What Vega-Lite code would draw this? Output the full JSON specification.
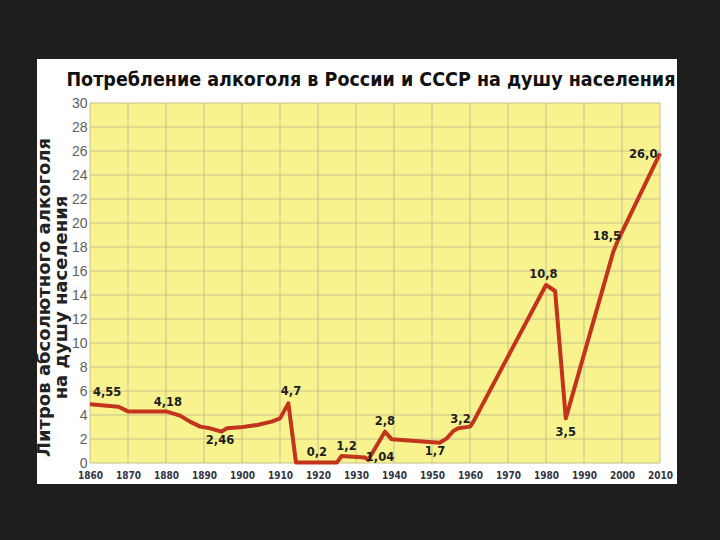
{
  "$schema": "https://vega.github.io/schema/vega-lite/v6.json",
  "autosize": "none",
  "width": 640,
  "height": 425,
  "padding": {"left": 37, "top": 59, "right": 43, "bottom": 56},
  "background": "#1e1e1e",
  "config": {"view": {"fill": "white", "stroke": null}},
  "title": {
    "text": "Потребление алкоголя в России и СССР на душу населения",
    "anchor": "start",
    "font": "DejaVu Sans Condensed",
    "fontSize": 19.5,
    "fontWeight": "bold",
    "color": "#111111",
    "baseline": "alphabetic",
    "offset": -46,
    "dx": 31
  },
  "datasets": {
    "panel": [{"year": 1860, "year2": 2010, "value": 0, "value2": 30}],
    "grid": [
      {"year": 1860, "year2": 1860, "value": 0, "value2": 30},
      {"year": 1870, "year2": 1870, "value": 0, "value2": 30},
      {"year": 1880, "year2": 1880, "value": 0, "value2": 30},
      {"year": 1890, "year2": 1890, "value": 0, "value2": 30},
      {"year": 1900, "year2": 1900, "value": 0, "value2": 30},
      {"year": 1910, "year2": 1910, "value": 0, "value2": 30},
      {"year": 1920, "year2": 1920, "value": 0, "value2": 30},
      {"year": 1930, "year2": 1930, "value": 0, "value2": 30},
      {"year": 1940, "year2": 1940, "value": 0, "value2": 30},
      {"year": 1950, "year2": 1950, "value": 0, "value2": 30},
      {"year": 1960, "year2": 1960, "value": 0, "value2": 30},
      {"year": 1970, "year2": 1970, "value": 0, "value2": 30},
      {"year": 1980, "year2": 1980, "value": 0, "value2": 30},
      {"year": 1990, "year2": 1990, "value": 0, "value2": 30},
      {"year": 2000, "year2": 2000, "value": 0, "value2": 30},
      {"year": 2010, "year2": 2010, "value": 0, "value2": 30},
      {"year": 1860, "year2": 2010, "value": 0, "value2": 0},
      {"year": 1860, "year2": 2010, "value": 2, "value2": 2},
      {"year": 1860, "year2": 2010, "value": 4, "value2": 4},
      {"year": 1860, "year2": 2010, "value": 6, "value2": 6},
      {"year": 1860, "year2": 2010, "value": 8, "value2": 8},
      {"year": 1860, "year2": 2010, "value": 10, "value2": 10},
      {"year": 1860, "year2": 2010, "value": 12, "value2": 12},
      {"year": 1860, "year2": 2010, "value": 14, "value2": 14},
      {"year": 1860, "year2": 2010, "value": 16, "value2": 16},
      {"year": 1860, "year2": 2010, "value": 18, "value2": 18},
      {"year": 1860, "year2": 2010, "value": 20, "value2": 20},
      {"year": 1860, "year2": 2010, "value": 22, "value2": 22},
      {"year": 1860, "year2": 2010, "value": 24, "value2": 24},
      {"year": 1860, "year2": 2010, "value": 26, "value2": 26},
      {"year": 1860, "year2": 2010, "value": 28, "value2": 28},
      {"year": 1860, "year2": 2010, "value": 30, "value2": 30}
    ],
    "series": [
      {"year": 1860, "value": 4.89},
      {"year": 1867.5, "value": 4.69},
      {"year": 1870, "value": 4.3},
      {"year": 1880, "value": 4.3},
      {"year": 1883.7, "value": 3.95},
      {"year": 1886.3, "value": 3.45},
      {"year": 1889, "value": 3.03},
      {"year": 1891.6, "value": 2.89},
      {"year": 1894.6, "value": 2.61},
      {"year": 1896, "value": 2.89},
      {"year": 1899.5, "value": 2.97},
      {"year": 1904, "value": 3.17},
      {"year": 1907.8, "value": 3.45},
      {"year": 1910, "value": 3.72},
      {"year": 1912.2, "value": 4.97},
      {"year": 1914.2, "value": 0.05},
      {"year": 1925, "value": 0.05},
      {"year": 1926.2, "value": 0.58},
      {"year": 1932.4, "value": 0.45},
      {"year": 1933.2, "value": 0.25},
      {"year": 1937.6, "value": 2.61},
      {"year": 1939.4, "value": 1.97},
      {"year": 1952, "value": 1.69},
      {"year": 1953.9, "value": 2.05},
      {"year": 1955.6, "value": 2.67},
      {"year": 1956.9, "value": 2.89},
      {"year": 1960, "value": 3.03},
      {"year": 1960.9, "value": 3.45},
      {"year": 1980, "value": 14.83},
      {"year": 1982.4, "value": 14.33},
      {"year": 1985.2, "value": 3.72},
      {"year": 1997.7, "value": 17.6},
      {"year": 1999, "value": 18.6},
      {"year": 2010, "value": 25.8}
    ],
    "labels": [
      {"year": 1864.5, "value": 5.83, "text": "4,55"},
      {"year": 1880.5, "value": 5.0, "text": "4,18"},
      {"year": 1894.2, "value": 1.83, "text": "2,46"},
      {"year": 1912.9, "value": 5.9, "text": "4,7"},
      {"year": 1919.7, "value": 0.8, "text": "0,2"},
      {"year": 1927.5, "value": 1.33, "text": "1,2"},
      {"year": 1936.3, "value": 0.42, "text": "1,04"},
      {"year": 1937.6, "value": 3.42, "text": "2,8"},
      {"year": 1950.8, "value": 0.92, "text": "1,7"},
      {"year": 1957.5, "value": 3.58, "text": "3,2"},
      {"year": 1979.3, "value": 15.67, "text": "10,8"},
      {"year": 1985.2, "value": 2.53, "text": "3,5"},
      {"year": 1996, "value": 18.86, "text": "18,5"},
      {"year": 2005.6, "value": 25.67, "text": "26,0"}
    ]
  },
  "encoding": {
    "x": {
      "field": "year",
      "type": "quantitative",
      "scale": {"domain": [1846.05, 2014.47], "nice": false, "zero": false},
      "axis": {
        "values": [1860, 1870, 1880, 1890, 1900, 1910, 1920, 1930, 1940, 1950, 1960, 1970, 1980, 1990, 2000, 2010],
        "format": "d",
        "offset": -21,
        "domain": false,
        "ticks": false,
        "grid": false,
        "labelFont": "DejaVu Sans Condensed",
        "labelFontWeight": "bold",
        "labelFontSize": 10,
        "labelColor": "#333344",
        "labelPadding": 7,
        "labelFlush": false,
        "title": null
      }
    },
    "y": {
      "field": "value",
      "type": "quantitative",
      "scale": {"domain": [-1.75, 33.667], "nice": false, "zero": false},
      "axis": {
        "values": [0, 2, 4, 6, 8, 10, 12, 14, 16, 18, 20, 22, 24, 26, 28, 30],
        "offset": -53,
        "domain": false,
        "ticks": false,
        "grid": false,
        "labelFont": "Liberation Sans",
        "labelFontSize": 14,
        "labelColor": "#606060",
        "labelPadding": 3,
        "title": ["Литров абсолютного алкоголя", "на душу населения"],
        "titleFont": "DejaVu Sans",
        "titleFontWeight": "bold",
        "titleFontSize": 18,
        "titleLineHeight": 17,
        "titleColor": "#222222",
        "titlePadding": 1,
        "titleY": 238
      }
    }
  },
  "layer": [
    {
      "data": {"name": "panel"},
      "mark": {"type": "rect", "fill": "#f9f38f"},
      "encoding": {"x2": {"field": "year2"}, "y2": {"field": "value2"}}
    },
    {
      "data": {"name": "grid"},
      "mark": {"type": "rule", "stroke": "#c6c189", "strokeWidth": 1},
      "encoding": {"x2": {"field": "year2"}, "y2": {"field": "value2"}}
    },
    {
      "data": {"name": "series"},
      "mark": {"type": "line", "stroke": "#c2341b", "strokeWidth": 4, "strokeJoin": "round"},
      "encoding": {}
    },
    {
      "data": {"name": "labels"},
      "mark": {"type": "text", "font": "DejaVu Sans", "fontWeight": "bold", "fontSize": 11.5, "fill": "#1d1d1d", "align": "center", "baseline": "middle"},
      "encoding": {"text": {"field": "text"}}
    }
  ]
}
